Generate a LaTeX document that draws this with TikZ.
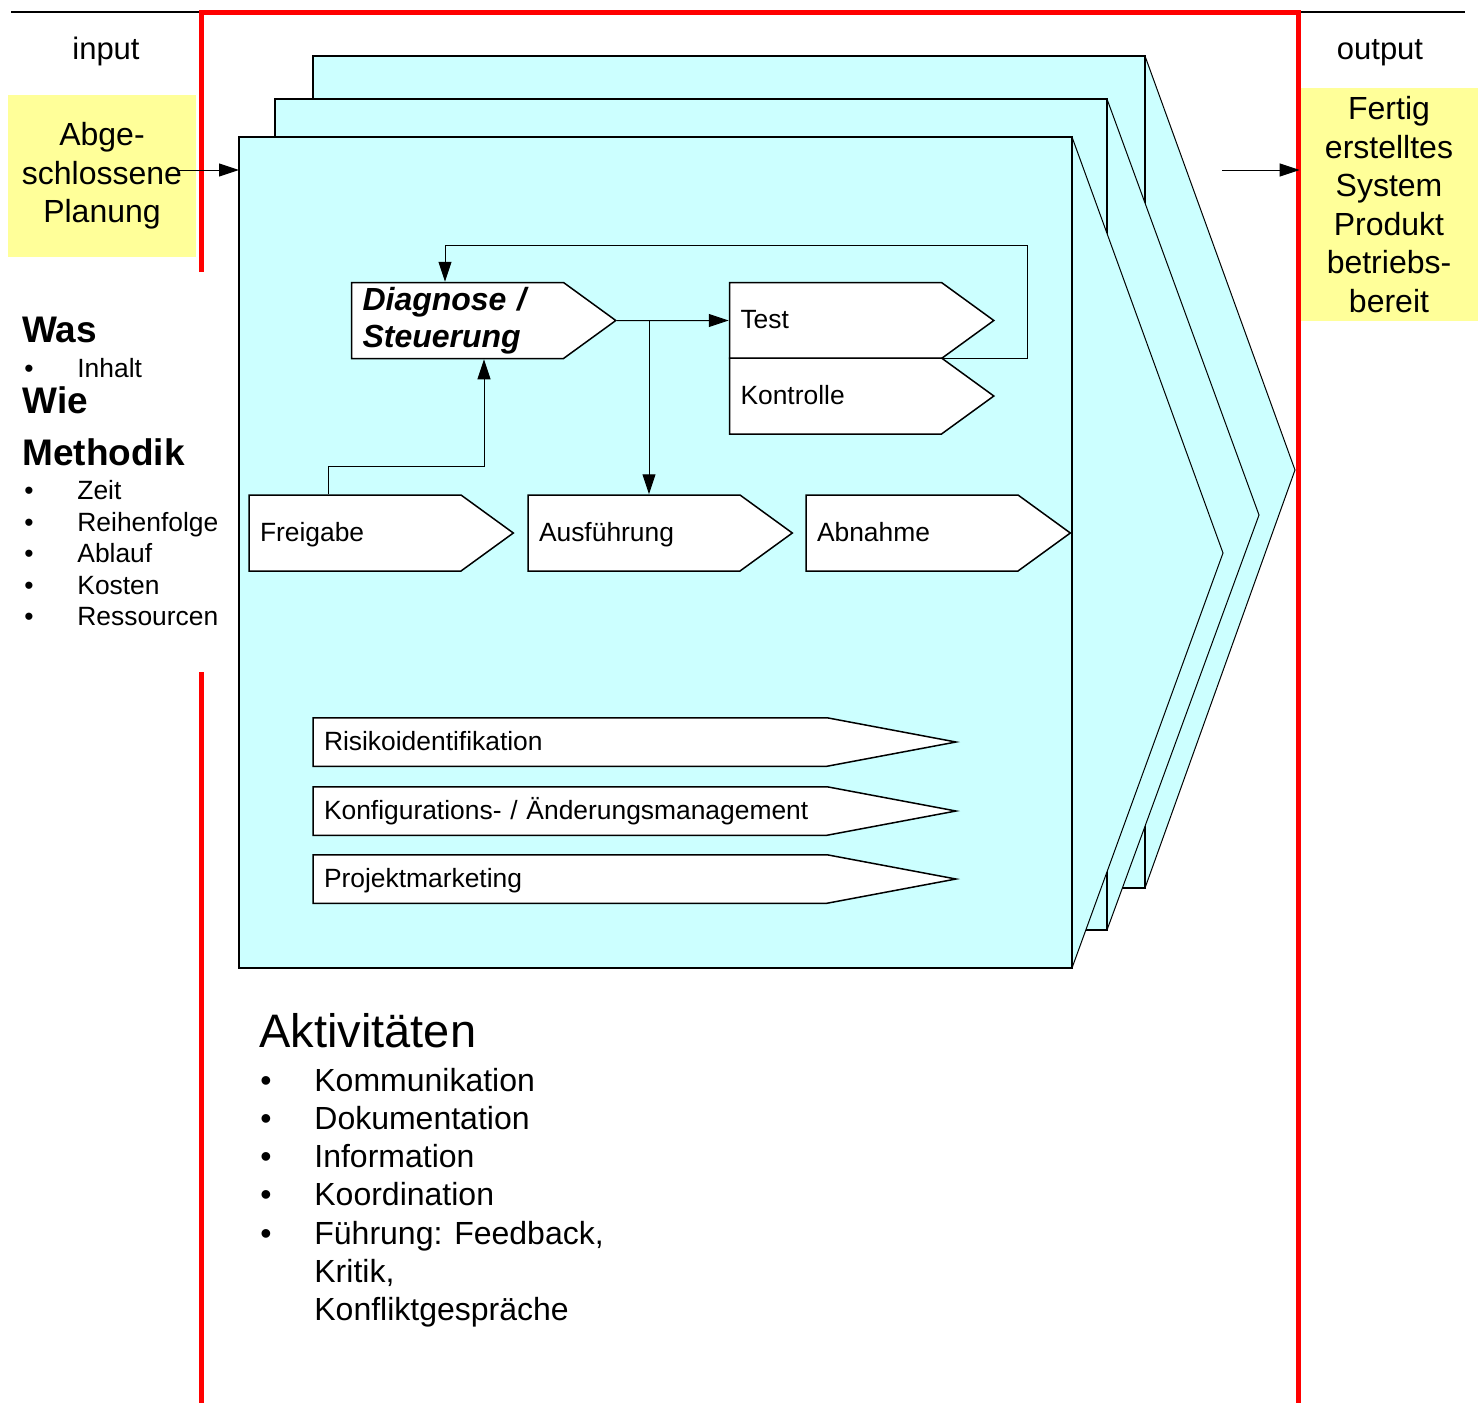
\documentclass[tikz,border=0pt]{standalone}
\usepackage{fontspec}
\setmainfont{Liberation Sans}
\usepackage{tikz}
\usetikzlibrary{shapes,arrows.meta}
\definecolor{hellcyan}{HTML}{CCFFFF}
\definecolor{hellgelb}{HTML}{FFFF99}

\begin{document}
\begin{tikzpicture}[x=0.5pt, y=-0.5pt]
			\tikzstyle{Ebene}	= [fill=hellcyan]
			\tikzstyle{Rahmen}	= [line width=1.4pt]
			\tikzstyle{Kante}	= [line width=0.5pt]
			\tikzstyle{Grenze}	= [red, line width=2.5pt]
			\tikzstyle{Linie}	= [line width=0.6pt]
			\tikzstyle{Pfeil}	= [-{Triangle[length=10pt, width=6.5pt]}, line width=0.5pt]
			\tikzstyle{Form}	= [signal, signal to=east, draw, line width=0.75pt, fill=white, inner xsep=5.5pt, align=left]
			\tikzstyle{Phase}	= [Form, signal pointer angle=72, minimum height=38pt, text width=95pt]
			\tikzstyle{Band}	= [Form, signal pointer angle=21.3, minimum height=24.25pt, text width=246pt]
			\tikzstyle{Klein}	= [font=\fontsize{13.2}{16}\selectfont, text height=10pt, text depth=2pt]
			\tikzstyle{Zettel}	= [fill=hellgelb, align=center, inner sep=0pt, font=\fontsize{16}{19.25}\selectfont]
			\tikzstyle{Titel}	= [anchor=base, inner sep=0pt, font=\fontsize{15.5}{18}\selectfont]
			\tikzstyle{Kopf}	= [anchor=base west, inner sep=0pt, font=\bfseries\fontsize{18.5}{22}\selectfont]
			\tikzstyle{Liste}	= [anchor=base west, inner sep=0pt, font=\fontsize{13.2}{16}\selectfont]
			\tikzstyle{PunktK}	= [anchor=base, inner sep=0pt, font=\fontsize{13.2}{16}\selectfont]
			\tikzstyle{Gross}	= [anchor=base west, inner sep=0pt, font=\fontsize{16}{19.25}\selectfont]
			\tikzstyle{PunktG}	= [anchor=base, inner sep=0pt, font=\fontsize{16}{19.25}\selectfont]

			\useasboundingbox (0,0) rectangle (1484,1403);

			% input / output
			\node (Input) at (106,59) [Titel] {input};
			\node (Output) at (1380,59) [Titel] {output};
			\node (Eingang) at (102,176) [Zettel, minimum width=94pt, minimum height=81pt] {Abge-\\schlossene\\Planung};
			\node (Ausgang) at (1389,204.5) [Zettel, minimum width=89pt, minimum height=116.5pt] {Fertig\\erstelltes\\System\\Produkt\\betriebs-\\bereit};

			% drei Ebenen
			\fill [Ebene] (313,56) -- (1145,56) -- (1295,470) -- (1145,888) -- (313,888) -- cycle;
			\draw [Kante] (1145,56) -- (1295,470) -- (1145,888);
			\draw [Rahmen] (313,56) rectangle (1145,888);

			\fill [Ebene] (275,99) -- (1107,99) -- (1259,515) -- (1107,930) -- (275,930) -- cycle;
			\draw [Kante] (1107,99) -- (1259,515) -- (1107,930);
			\draw [Rahmen] (275,99) rectangle (1107,930);

			\fill [Ebene] (239,137) -- (1072,137) -- (1223,553) -- (1072,968) -- (239,968) -- cycle;
			\draw [Kante] (1072,137) -- (1223,553) -- (1072,968);
			\draw [Rahmen] (239,137) rectangle (1072,968);

			% Rahmen
			\draw [Linie] (11,12) -- (201,12);
			\draw [Linie] (1298,12) -- (1465,12);
			\draw [Grenze] (201,272) -- (201,12) -- (1298,12) -- (1298,1403);
			\draw [Grenze] (201,672) -- (201,1403);

			\coordinate (InA) at (178,170);
			\coordinate (InB) at (239,170);
			\draw [Pfeil] (InA) to (InB);
			\coordinate (OutA) at (1222,170);
			\draw [Pfeil] (OutA) to (OutA -| Ausgang.west);

			% Phasen
			\node (Diagnose) at (457.5,320.5) [Phase, inner ysep=0pt, font=\bfseries\itshape\fontsize{16}{18.3}\selectfont] {Diagnose /\\Steuerung};
			\node (Test) at (835.5,320.5) [Phase, Klein] {Test};
			\node (Kontrolle) at (835.5,396) [Phase, Klein] {Kontrolle};
			\node (Freigabe) at (355,533) [Phase, Klein] {Freigabe};
			\node (Ausfuehrung) at (634,533) [Phase, Klein] {Ausführung};
			\node (Abnahme) at (912,533) [Phase, Klein] {Abnahme};

			\node (Risiko) at (570,742) [Band, Klein] {Risikoidentifikation};
			\node (Konfig) at (570,811) [Band, Klein] {Konfigurations- / Änderungsmanagement};
			\node (Marketing) at (570,879) [Band, Klein] {Projektmarketing};

			\draw [Pfeil] (Diagnose) to (Test);
			\coordinate (Ast) at (649,320.5);
			\draw [Pfeil] (Ast) to (Ast |- Ausfuehrung.north);

			\coordinate (Tk) at (941,358);
			\coordinate (Rk) at (1027,245);
			\coordinate (Lk) at (445,245);
			\draw [Pfeil] (Tk) -| (Rk) -- (Lk) -- (Lk |- Diagnose.north);

			\coordinate (Fk) at (328,466);
			\coordinate (Dk) at (484,466);
			\draw [Pfeil] (Freigabe.north -| Fk) -- (Fk) -- (Dk) -- (Dk |- Diagnose.south);

			% Was / Wie
			\node (Was) at (22,342) [Kopf] {Was};
			\node (b0) at (29,377) [PunktK] {•};
			\node (Inhalt) at (77,377) [Liste] {Inhalt};
			\node (Wie) at (22,413) [Kopf] {Wie};
			\node (Methodik) at (22,465) [Kopf] {Methodik};
			\node (b1) at (29,499) [PunktK] {•};
			\node (Zeit) at (77,499) [Liste] {Zeit};
			\node (b2) at (29,531) [PunktK] {•};
			\node (Folge) at (77,531) [Liste] {Reihenfolge};
			\node (b3) at (29,562) [PunktK] {•};
			\node (Ablauf) at (77,562) [Liste] {Ablauf};
			\node (b4) at (29,594) [PunktK] {•};
			\node (Kosten) at (77,594) [Liste] {Kosten};
			\node (b5) at (29,625) [PunktK] {•};
			\node (Ressourcen) at (77,625) [Liste] {Ressourcen};

			% Aktivitaeten
			\node (Akt) at (259,1047) [anchor=base west, inner sep=0pt, font=\fontsize{23.5}{28}\selectfont] {Aktivitäten};
			\node (a1) at (266,1091) [PunktG] {•};
			\node (Kommunikation) at (314,1091) [Gross] {Kommunikation};
			\node (a2) at (266,1129) [PunktG] {•};
			\node (Dokumentation) at (314,1129) [Gross] {Dokumentation};
			\node (a3) at (266,1167) [PunktG] {•};
			\node (Information) at (314,1167) [Gross] {Information};
			\node (a4) at (266,1205) [PunktG] {•};
			\node (Koordination) at (314,1205) [Gross] {Koordination};
			\node (a5) at (266,1244) [PunktG] {•};
			\node (Fuehrung) at (314,1244) [Gross] {Führung: Feedback,};
			\node (Kritik) at (314,1282) [Gross] {Kritik,};
			\node (Konflikt) at (314,1320) [Gross] {Konfliktgespräche};
		\end{tikzpicture}
\end{document}
